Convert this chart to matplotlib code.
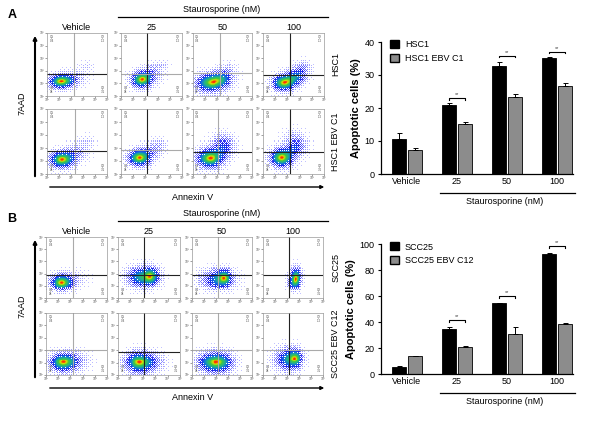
import matplotlib
matplotlib.use("Agg")
import matplotlib.pyplot as plt
import numpy as np
from matplotlib.colors import LinearSegmentedColormap
from matplotlib.patches import Patch

plt.rcParams['font.family'] = ['Liberation Sans', 'DejaVu Sans']

W, H = 590, 423

# ---- bar chart data ----
cats = ['Vehicle', '25', '50', '100']
hsc1 = [10.5, 20.8, 32.8, 35.0]
hsc1_err = [2.0, 0.6, 1.0, 0.5]
hsc1_ebv = [7.4, 15.3, 23.3, 26.7]
hsc1_ebv_err = [0.5, 0.5, 0.8, 0.8]
sig_a = [23.0, 35.8, 37.0]          # bracket heights for 25, 50, 100

scc25 = [5.5, 34.5, 54.5, 92.0]
scc25_err = [0.5, 1.5, 0.5, 1.2]
scc25_ebv = [13.5, 20.8, 30.5, 38.5]
scc25_ebv_err = [0.7, 0.5, 5.5, 0.6]
sig_b = [41.5, 60.0, 98.5]

# ---- flow panels: clusters (cx, cy, sx, sy, weight) in panel fractions ----
flow_a = [
    [[(0.22, 0.22, 0.11, 0.06, 1.0), (0.45, 0.28, 0.12, 0.06, 0.3), (0.65, 0.47, 0.07, 0.05, 0.15)],
     [(0.33, 0.25, 0.09, 0.07, 1.0), (0.52, 0.35, 0.09, 0.08, 0.35), (0.68, 0.5, 0.06, 0.05, 0.15)],
     [(0.28, 0.2, 0.13, 0.08, 1.0), (0.5, 0.27, 0.1, 0.07, 0.5), (0.6, 0.42, 0.08, 0.07, 0.2)],
     [(0.33, 0.2, 0.1, 0.07, 1.0), (0.55, 0.3, 0.09, 0.07, 0.6), (0.66, 0.45, 0.07, 0.07, 0.3)]],
    [[(0.24, 0.22, 0.11, 0.07, 1.0), (0.5, 0.34, 0.1, 0.07, 0.3), (0.66, 0.5, 0.07, 0.06, 0.15)],
     [(0.3, 0.25, 0.1, 0.07, 1.0), (0.55, 0.38, 0.09, 0.07, 0.3), (0.66, 0.48, 0.05, 0.04, 0.15)],
     [(0.28, 0.24, 0.12, 0.08, 1.0), (0.52, 0.42, 0.1, 0.08, 0.45), (0.48, 0.55, 0.1, 0.06, 0.15)],
     [(0.3, 0.25, 0.1, 0.08, 1.0), (0.55, 0.42, 0.09, 0.08, 0.5), (0.5, 0.6, 0.1, 0.07, 0.15)]],
]
flow_b = [
    [[(0.25, 0.25, 0.1, 0.07, 1.0), (0.5, 0.32, 0.12, 0.08, 0.15)],
     [(0.38, 0.34, 0.13, 0.09, 1.0), (0.55, 0.36, 0.06, 0.08, 0.6)],
     [(0.42, 0.3, 0.15, 0.09, 1.0), (0.55, 0.34, 0.06, 0.07, 0.7)],
     [(0.55, 0.33, 0.05, 0.09, 1.0), (0.48, 0.22, 0.05, 0.06, 0.3)]],
    [[(0.25, 0.2, 0.11, 0.08, 1.0), (0.45, 0.22, 0.13, 0.09, 0.45)],
     [(0.3, 0.2, 0.11, 0.09, 1.0), (0.5, 0.2, 0.13, 0.09, 0.6)],
     [(0.3, 0.2, 0.12, 0.09, 1.0), (0.52, 0.2, 0.11, 0.09, 0.8)],
     [(0.4, 0.25, 0.11, 0.1, 1.0), (0.56, 0.27, 0.06, 0.08, 0.8)]],
]
# gates: (vertical x, horizontal y, vertical dark?, horizontal dark?)
gates_a = [
    [(0.45, 0.35, False, True), (0.42, 0.35, True, False), (0.45, 0.36, False, False), (0.45, 0.34, True, True)],
    [(0.46, 0.36, False, True), (0.42, 0.37, True, False), (0.42, 0.34, False, True), (0.45, 0.34, True, True)],
]
gates_b = [
    [(0.44, 0.38, False, True), (0.42, 0.38, True, True), (0.44, 0.38, False, True), (0.43, 0.38, True, True)],
    [(0.44, 0.40, False, False), (0.42, 0.37, True, True), (0.44, 0.40, False, False), (0.43, 0.40, True, False)],
]

cmap = LinearSegmentedColormap.from_list(
    'flow', [(0, '#c8c8ff'), (0.2, '#7a7aff'), (0.4, '#2020f0'), (0.58, '#1070e0'),
             (0.74, '#20b090'), (0.87, '#40c840'), (0.96, '#d8e000'), (1.0, '#ff3000')])

# ordered-dither matrix used to give the density plots a dotted look
bayer = np.array([[0, 8, 2, 10], [12, 4, 14, 6], [3, 11, 1, 9], [15, 7, 13, 5]]) / 16.0


def px_rect(x0, x1, y0, y1):
    return [x0 / W, 1 - y1 / H, (x1 - x0) / W, (y1 - y0) / H]


def flow_panel(rect, clusters, gate):
    ax = fig.add_axes(rect)
    n = 64
    g = np.linspace(0, 1, n)
    X, Y = np.meshgrid(g, g)
    d = np.zeros_like(X)
    for cx, cy, sx, sy, w in clusters:
        sx, sy = sx * 1.35, sy * 1.35
        d += w * np.exp(-((X - cx) ** 2 / (2 * sx ** 2) + (Y - cy) ** 2 / (2 * sy ** 2)))
    d = d / d.max()
    thr = np.tile(bayer, (n // 4, n // 4)) * 0.75 + 0.03
    shade = np.ma.masked_where(d < thr, d ** 1.3)
    ax.imshow(shade, origin='lower', extent=(0, 1, 0, 1), cmap=cmap, vmin=0, vmax=1,
              aspect='auto', interpolation='nearest')
    vx, hy, vdark, hdark = gate
    ax.axvline(vx, color='#222222' if vdark else '#aaaaaa', lw=0.8)
    ax.axhline(hy, color='#222222' if hdark else '#aaaaaa', lw=0.8)
    for tx, ty, s, ha, va in [(0.04, 0.97, 'Q1\n0.4', 'left', 'top'), (0.96, 0.97, 'Q2\n1.2', 'right', 'top'),
                              (0.04, 0.03, 'Q4\n94', 'left', 'bottom'), (0.96, 0.03, 'Q3\n3.1', 'right', 'bottom')]:
        ax.text(tx, ty, s, fontsize=2.2, ha=ha, va=va, color='#555555', linespacing=0.9)
    ticks = np.linspace(0, 1, 6)
    labs = ['10⁰', '10¹', '10²', '10³', '10⁴', '10⁵']
    ax.set_xticks(ticks)
    ax.set_xticklabels(labs, fontsize=2.3, color='#555555')
    ax.set_yticks(ticks)
    ax.set_yticklabels(labs, fontsize=2.3, color='#555555')
    ax.tick_params(length=1.2, width=0.4, pad=0.5, colors='#555555')
    ax.set_xlim(0, 1)
    ax.set_ylim(0, 1)
    for s in ax.spines.values():
        s.set_linewidth(0.5)
        s.set_color('#999999')
    return ax


fig = plt.figure(figsize=(W / 100, H / 100), dpi=100)
over = fig.add_axes([0, 0, 1, 1])
over.set_xlim(0, W)
over.set_ylim(H, 0)
over.axis('off')

cols_a = [(47, 107), (121, 182), (193, 252), (263, 324)]
rows_a = [(33, 96), (109, 174)]
cols_b = [(46, 107), (118, 180), (192, 252), (263, 323)]
rows_b = [(237, 298), (313, 375)]

for r in range(2):
    for c in range(4):
        flow_panel(px_rect(cols_a[c][0], cols_a[c][1], rows_a[r][0], rows_a[r][1]), flow_a[r][c], gates_a[r][c])
        flow_panel(px_rect(cols_b[c][0], cols_b[c][1], rows_b[r][0], rows_b[r][1]), flow_b[r][c], gates_b[r][c])

# flow annotations
for top, cols, rows, names, lab in [(0, cols_a, rows_a, ['HSC1', 'HSC1 EBV C1'], 'A'),
                                    (204, cols_b, rows_b, ['SCC25', 'SCC25 EBV C12'], 'B')]:
    over.text(12, 15 + top, lab, fontsize=9, fontweight='bold', ha='center', va='center')
    over.text(222, 9 + top, 'Staurosporine (nM)', fontsize=6.5, ha='center', va='center')
    over.plot([118, 328], [17 + top, 17 + top], color='black', lw=0.9)
    for (x0, x1), t in zip(cols, cats):
        over.text((x0 + x1) / 2, rows[0][0] - 6, t, fontsize=6.5, ha='center', va='center')
    for (y0, y1), t in zip(rows, names):
        over.text(336, (y0 + y1) / 2, t, fontsize=6.5, rotation=90, ha='center', va='center')
    over.annotate('', xy=(35, rows[0][0]), xytext=(35, rows[1][1] + 5),
                  arrowprops=dict(arrowstyle='-|>', color='black', lw=1.5, mutation_scale=5))
    over.text(22, (rows[0][0] + rows[1][1]) / 2, '7AAD', fontsize=6.5, rotation=90, ha='center', va='center')
    over.annotate('', xy=(327, rows[1][1] + 13), xytext=(47, rows[1][1] + 13),
                  arrowprops=dict(arrowstyle='-|>', color='black', lw=1.0, mutation_scale=5))
    over.text(193, rows[1][1] + 23, 'Annexin V', fontsize=6.5, ha='center', va='center')


def bar_panel(rect, a, a_err, b, b_err, sig, ymax, step, names, line_y):
    ax = fig.add_axes(rect)
    x = np.arange(len(cats))
    w = 0.27
    ax.bar(x - 0.16, a, w, color='black', edgecolor='black', lw=0.6,
           yerr=[np.zeros(len(a)), a_err], capsize=1.8, error_kw=dict(lw=0.7, capthick=0.7), label=names[0])
    ax.bar(x + 0.16, b, w, color='#8c8c8c', edgecolor='black', lw=0.6,
           yerr=[np.zeros(len(b)), b_err], capsize=1.8, error_kw=dict(lw=0.7, capthick=0.7), label=names[1])
    tick_h = ymax * 0.012
    for xi, s in zip(x[1:], sig):
        ax.plot([xi - 0.16, xi - 0.16, xi + 0.16, xi + 0.16], [s - tick_h, s, s, s - tick_h], color='black', lw=0.8,
                clip_on=False)
        ax.text(xi, s + ymax * 0.005, '**', fontsize=4, ha='center', va='bottom', color='#444444')
    ax.set_xlim(-0.52, 3.32)
    ax.set_ylim(0, ymax)
    ax.set_yticks(np.arange(0, ymax + 1, step))
    ax.set_xticks(x)
    ax.set_xticklabels(cats)
    ax.tick_params(labelsize=6.5, length=2.5, width=0.8, pad=2)
    ax.tick_params(axis='x', length=0)
    for s in ['top', 'right']:
        ax.spines[s].set_visible(False)
    for s in ['left', 'bottom']:
        ax.spines[s].set_linewidth(0.9)
    ax.set_ylabel('Apoptotic cells (%)', fontsize=8, fontweight='bold', labelpad=3)
    hs = [Patch(facecolor='black', edgecolor='black'), Patch(facecolor='#8c8c8c', edgecolor='black')]
    ax.legend(hs, names, loc='upper left', bbox_to_anchor=(0.03, 1.04), frameon=False, fontsize=6.5,
              handlelength=1.0, handleheight=1.0, handletextpad=0.6, labelspacing=0.5, borderaxespad=0)
    over.plot([440, 575], [line_y, line_y], color='black', lw=0.9)
    over.text(505, line_y + 8, 'Staurosporine (nM)', fontsize=6.5, ha='center', va='center')
    return ax


bar_panel(px_rect(381, 573, 42, 174), hsc1, hsc1_err, hsc1_ebv, hsc1_ebv_err, sig_a, 40, 10,
          ['HSC1', 'HSC1 EBV C1'], 193)
bar_panel(px_rect(381, 573, 244, 374), scc25, scc25_err, scc25_ebv, scc25_ebv_err, sig_b, 100, 20,
          ['SCC25', 'SCC25 EBV C12'], 393)

fig.savefig('out.png', dpi=100)
